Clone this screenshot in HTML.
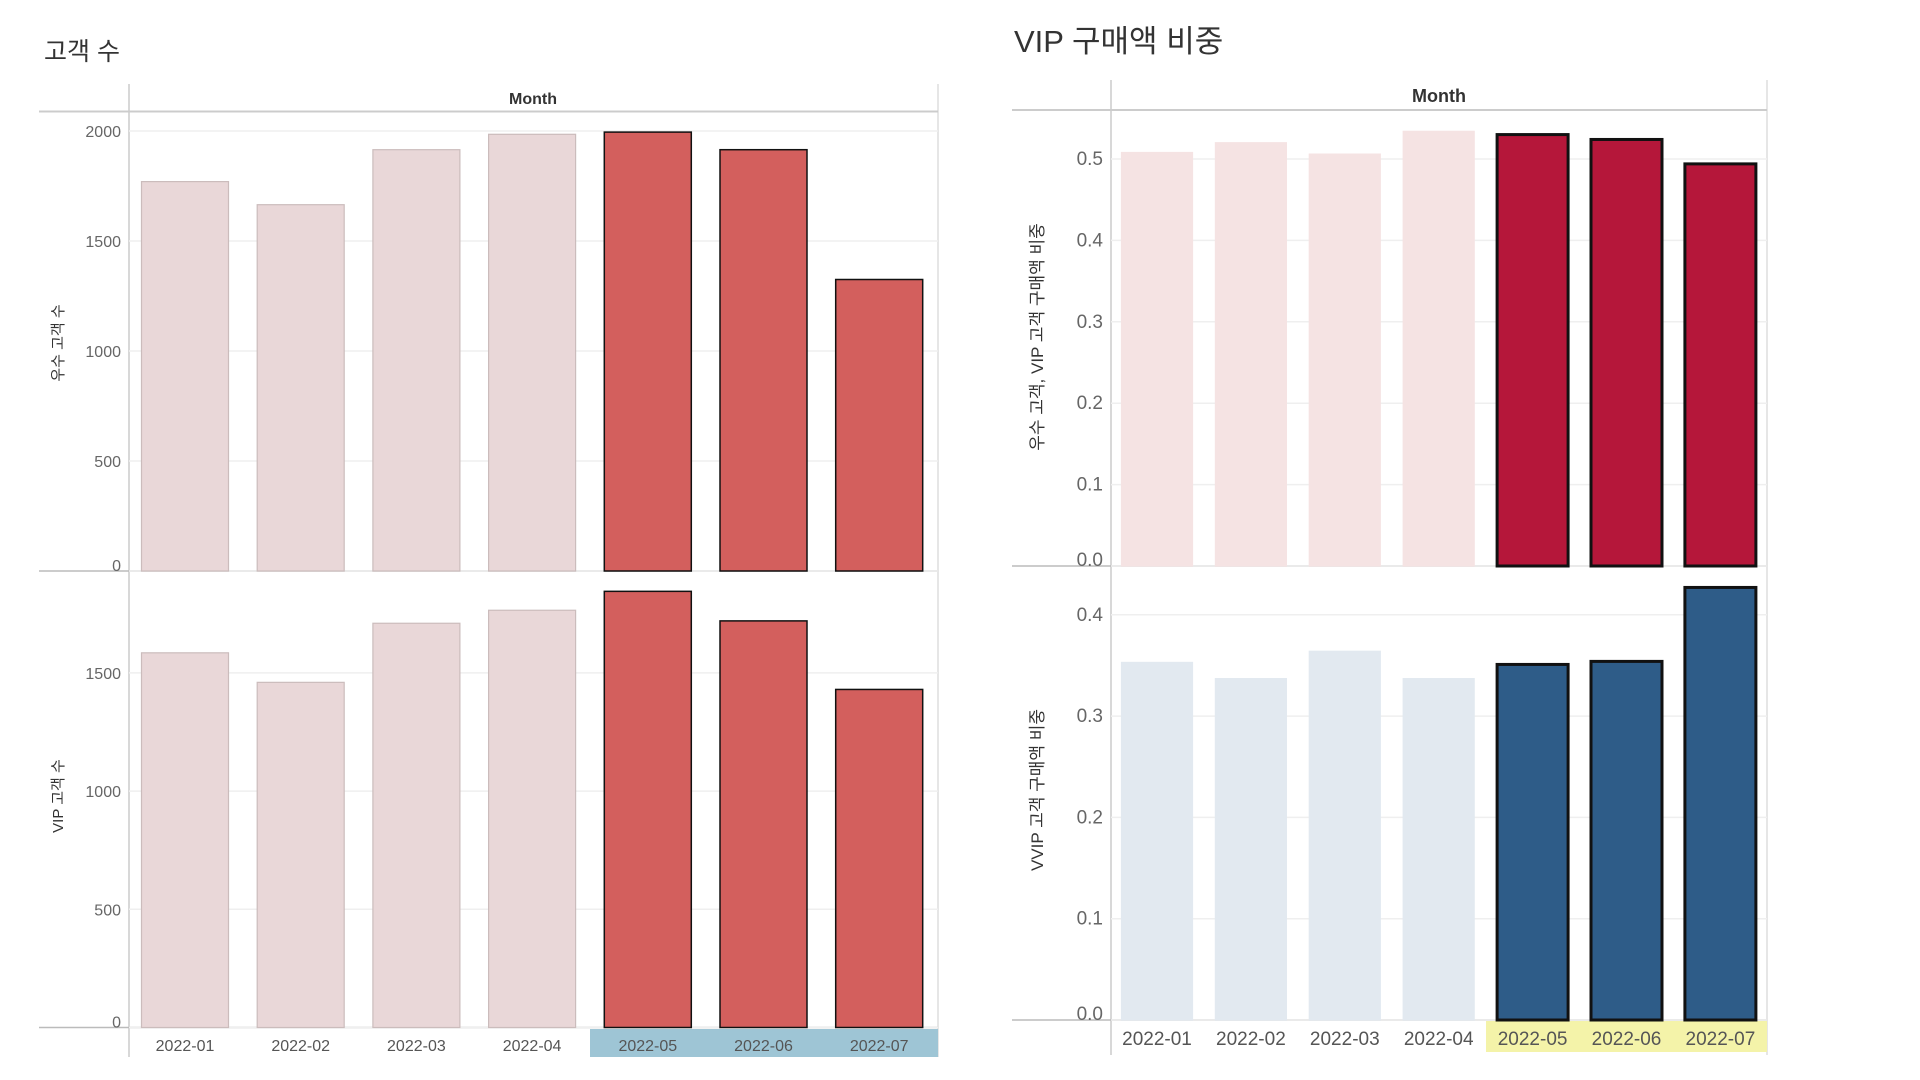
<!DOCTYPE html>
<html><head><meta charset="utf-8"><style>
html,body{margin:0;padding:0;background:#fff;}
svg{display:block;font-family:"Liberation Sans","Noto Sans CJK KR",sans-serif;}
</style></head><body>
<svg id="c" width="1920" height="1080" xmlns="http://www.w3.org/2000/svg"></svg>
<script>
const months = ["2022-01","2022-02","2022-03","2022-04","2022-05","2022-06","2022-07"];
const goodCustomers = [1770,1665,1915,1985,1995,1915,1325];
const vipCustomers = [1585,1460,1710,1765,1845,1720,1430];
const goodVipShare = [0.508,0.520,0.506,0.534,0.530,0.524,0.494];
const vvipShare = [0.353,0.337,0.364,0.337,0.351,0.354,0.427];
const leftTopTicks = [0,500,1000,1500,2000];
const leftBotTicks = [0,500,1000,1500];
const rightTopTicks = [0.0,0.1,0.2,0.3,0.4,0.5];
const rightBotTicks = [0.0,0.1,0.2,0.3,0.4];
const highlighted = [4,5,6];

const svg = document.getElementById('c');
const NS = 'http://www.w3.org/2000/svg';
function mk(tag, attrs, parent){const e=document.createElementNS(NS,tag);for(const k in attrs)e.setAttribute(k,attrs[k]);(parent||svg).appendChild(e);return e;}
function txt(s, attrs){const e=mk('text',attrs);e.textContent=s;return e;}

function pane(o){
  const g=mk('g',{});
  
  
  const y=v=>o.base-(v/o.max)*(o.base-o.top);
  o.ticks.forEach(t=>{
    const gl=mk('line',{x1:o.ax,x2:o.right,y1:y(t),y2:y(t),stroke:'#efefef','stroke-width':1.5},g);
    
    
    const tl=txt(o.fmt(t),{x:o.ax-8,y:y(t)+6-(t===0?6:0),'text-anchor':'end','font-size':o.fs,fill:'#666'});
    
    
  });
  o.vals.forEach((v,i)=>{
    const cx=o.x0+i*o.step;
    const hi=highlighted.includes(i);
    const r=mk('rect',{x:cx-o.bw/2,y:y(v),width:o.bw,height:o.base-y(v),fill:hi?o.hiFill:o.loFill,stroke:hi?'#111':o.loStroke,'stroke-width':hi?o.sw:1.2},g);
    
    
  });
  const yt=txt(o.title,{transform:`translate(${o.tx},${o.tcy}) rotate(-90)`,'text-anchor':'middle','font-size':o.tfs,fill:'#333'});
  
  
}

// Left dashboard
let t=txt('고객 수',{x:44,y:60,'font-size':25,fill:'#333'});

mk('line',{x1:129,x2:129,y1:84,y2:1057,stroke:'#ccc','stroke-width':1.5});
mk('line',{x1:938,x2:938,y1:84,y2:1057,stroke:'#ddd','stroke-width':1.5});
mk('line',{x1:39,x2:938,y1:111.5,y2:111.5,stroke:'#ccc','stroke-width':2});
t=txt('Month',{x:533,y:104,'text-anchor':'middle','font-size':16,'font-weight':'bold',fill:'#333'});

mk('line',{x1:39,x2:938,y1:571,y2:571,stroke:'#bbb','stroke-width':1.5});
mk('line',{x1:39,x2:938,y1:1027.5,y2:1027.5,stroke:'#bbb','stroke-width':1.5});
let band=mk('rect',{x:590,y:1029,width:348,height:28,fill:'#9ec5d5'});

pane({name:'good-customers-pane',vals:goodCustomers,ticks:leftTopTicks,max:2000,top:131,base:571,ax:129,right:938,x0:185,step:115.7,bw:87,fmt:v=>String(v),fs:16,loFill:'#e9d7d8',loStroke:'#cbbcbc',hiFill:'#d35f5d',sw:1.5,title:'우수 고객 수',tx:63,tcy:343,tfs:15});
pane({name:'vip-customers-pane',vals:vipCustomers,ticks:leftBotTicks,max:1500,top:1027.5-3*118.2,base:1027.5,ax:129,right:938,x0:185,step:115.7,bw:87,fmt:v=>String(v),fs:16,loFill:'#e9d7d8',loStroke:'#cbbcbc',hiFill:'#d35f5d',sw:1.5,title:'VIP 고객 수',tx:63,tcy:796,tfs:15});
months.forEach((m,i)=>{const e=txt(m,{x:185+i*115.7,y:1051,'text-anchor':'middle','font-size':16,fill:'#555'});
});

// Right dashboard
t=txt('VIP 구매액 비중',{x:1014,y:52,'font-size':31,fill:'#333'});

mk('line',{x1:1111,x2:1111,y1:80,y2:1055,stroke:'#ccc','stroke-width':1.5});
mk('line',{x1:1767,x2:1767,y1:80,y2:1055,stroke:'#ddd','stroke-width':1.5});
mk('line',{x1:1012,x2:1767,y1:110,y2:110,stroke:'#ccc','stroke-width':2});
t=txt('Month',{x:1439,y:102,'text-anchor':'middle','font-size':18,'font-weight':'bold',fill:'#333'});

mk('line',{x1:1012,x2:1767,y1:566,y2:566,stroke:'#bbb','stroke-width':1.5});
mk('line',{x1:1012,x2:1767,y1:1020,y2:1020,stroke:'#bbb','stroke-width':1.5});
band=mk('rect',{x:1486,y:1021,width:281,height:31,fill:'#f4f3a9'});

pane({name:'good-vip-share-pane',vals:goodVipShare,ticks:rightTopTicks,max:0.5,top:159,base:566,ax:1111,right:1767,x0:1157,step:93.9,bw:71,fmt:v=>v.toFixed(1),fs:19,loFill:'#f5e3e3',loStroke:'#f5e3e3',hiFill:'#b5173a',sw:3,title:'우수 고객, VIP 고객 구매액 비중',tx:1043,tcy:337,tfs:17});
pane({name:'vvip-share-pane',vals:vvipShare,ticks:rightBotTicks,max:0.4,top:1020-4*101.3,base:1020,ax:1111,right:1767,x0:1157,step:93.9,bw:71,fmt:v=>v.toFixed(1),fs:19,loFill:'#e2e9f0',loStroke:'#e2e9f0',hiFill:'#2e5c88',sw:3,title:'VVIP 고객 구매액 비중',tx:1043,tcy:790,tfs:17});
months.forEach((m,i)=>{const e=txt(m,{x:1157+i*93.9,y:1045,'text-anchor':'middle','font-size':19,fill:'#555'});
});
</script>
</body></html>
